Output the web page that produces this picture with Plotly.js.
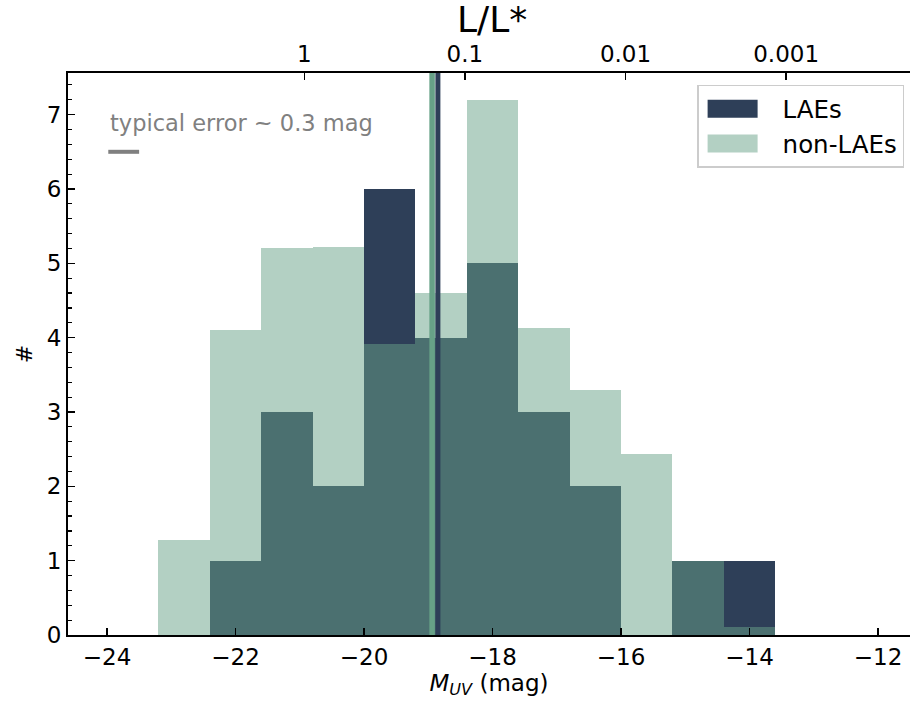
<!DOCTYPE html>
<html>
<head>
<meta charset="utf-8">
<script src="https://cdn.plot.ly/plotly-3.0.1.min.js"></script>
<style>html,body{margin:0;padding:0;background:#fff;}#chart{width:910px;height:704px;}</style>
</head>
<body>
<div id="chart"></div>
<script>
// ---- data ----
const binEdges = [-23.2, -22.4, -21.6, -20.8, -20.0, -19.2, -18.4, -17.6, -16.8, -16.0, -15.2, -14.4, -13.6];
const laeCounts = [0, 1, 3, 2, 6, 4, 5, 3, 2, 0, 1, 1];
const nonLaeCounts = [1.28, 4.1, 5.2, 5.22, 3.92, 4.6, 7.2, 4.13, 3.3, 2.44, 1.0, 0.11];
const medianLAE = -18.85;
const medianNonLAE = -18.94;
const Mstar = -20.93;
const lumTicks = [1, 0.1, 0.01, 0.001];
const lumTickText = ['1', '0.1', '0.01', '0.001'];
const errText = 'typical error ~ 0.3 mag';
const errX = [-23.98, -23.50];
const errY = 6.5;
const errTextY = 6.89;

// ---- derived ----
const centers = binEdges.slice(0, -1).map((e, i) => (e + binEdges[i + 1]) / 2);
const widths = binEdges.slice(0, -1).map((e, i) => binEdges[i + 1] - e);
const topTickVals = lumTicks.map(l => Mstar - 2.5 * Math.log10(l));

const navy = '#2e3f58';
const green = 'rgb(103,161,135)';
const xr = [-24.607, -11.502];
const font = 'DejaVu Sans, sans-serif';

const traces = [
  {type: 'bar', x: centers, y: laeCounts, width: widths, name: 'LAEs', legendgroup: 'a',
   marker: {color: navy, line: {width: 0}}, xaxis: 'x', yaxis: 'y'},
  {type: 'bar', x: centers, y: nonLaeCounts, width: widths, name: 'non-LAEs', legendgroup: 'b',
   marker: {color: 'rgba(103,161,135,0.5)', line: {width: 0}}, xaxis: 'x', yaxis: 'y'},
  {type: 'scatter', x: [xr[0]], y: [0], xaxis: 'x2', yaxis: 'y', mode: 'markers',
   marker: {opacity: 0}, showlegend: false, hoverinfo: 'skip'}
];

const layout = {
  width: 910, height: 704,
  margin: {l: 68, r: 0, t: 73, b: 69},
  paper_bgcolor: '#fff', plot_bgcolor: '#fff',
  font: {family: font, color: '#000', size: 22},
  barmode: 'overlay', bargap: 0,
  showlegend: true,
  legend: {x: 0.993, xanchor: 'right', y: 0.979, yanchor: 'top',
    bordercolor: '#cccccc', borderwidth: 1.5, bgcolor: 'rgba(255,255,255,0.8)',
    font: {family: font, size: 24.5}, itemwidth: 74, traceorder: 'grouped', tracegroupgap: 0},
  xaxis: {range: xr, tickvals: [-24, -22, -20, -18, -16, -14, -12],
    ticktext: ['−24', '−22', '−20', '−18', '−16', '−14', '−12'],
    ticks: 'inside', ticklen: 7, tickwidth: 1.5, tickcolor: '#000',
    showline: true, linecolor: '#000', linewidth: 2, mirror: false,
    showgrid: false, zeroline: false, tickfont: {size: 23},
    title: {text: '<i>M</i><sub><i>UV</i></sub> (mag)', font: {size: 23}, standoff: 4}},
  xaxis2: {overlaying: 'x', side: 'top', range: xr, tickvals: topTickVals, ticktext: lumTickText,
    ticks: 'inside', ticklen: 7, tickwidth: 1.5, tickcolor: '#000',
    showline: true, linecolor: '#000', linewidth: 2,
    showgrid: false, zeroline: false, tickfont: {size: 23}},
  yaxis: {range: [0, 7.56], tickvals: [0, 1, 2, 3, 4, 5, 6, 7],
    ticks: 'inside', ticklen: 7, tickwidth: 1.5, tickcolor: '#000',
    minor: {dtick: 0.2, ticks: 'inside', ticklen: 4, tickwidth: 1.2, tickcolor: '#000', showgrid: false},
    showline: true, linecolor: '#000', linewidth: 2,
    showgrid: false, zeroline: false, tickfont: {size: 23},
    title: {text: '#', font: {size: 22}, standoff: 8}},
  shapes: [
    {type: 'line', xref: 'x', yref: 'paper', x0: medianNonLAE, x1: medianNonLAE, y0: 0, y1: 1,
     line: {color: green, width: 5.5}},
    {type: 'line', xref: 'x', yref: 'paper', x0: medianLAE, x1: medianLAE, y0: 0, y1: 1,
     line: {color: navy, width: 5}},
    {type: 'line', xref: 'x', yref: 'y', x0: errX[0], x1: errX[1], y0: errY, y1: errY,
     line: {color: 'gray', width: 4}}
  ],
  annotations: [
    {xref: 'x', yref: 'y', x: errX[0], y: errTextY, xanchor: 'left', yanchor: 'middle',
     text: errText, showarrow: false, font: {family: font, size: 22.5, color: 'gray'}},
    {xref: 'paper', yref: 'paper', x: 0.503, y: 1.055, xanchor: 'center', yanchor: 'bottom',
     text: 'L/L*', showarrow: false, font: {family: font, size: 36, color: '#000'}}
  ]
};

Plotly.newPlot('chart', traces, layout, {displayModeBar: false, staticPlot: true}).then(gd => {
  // widen legend swatches to matplotlib-like patches
  gd.querySelectorAll('.legend .legendpoints path').forEach(p => {
    p.setAttribute('d', 'M-33,-9H17V9H-33Z');
    p.style.strokeWidth = '0';
  });
});
</script>
</body>
</html>
